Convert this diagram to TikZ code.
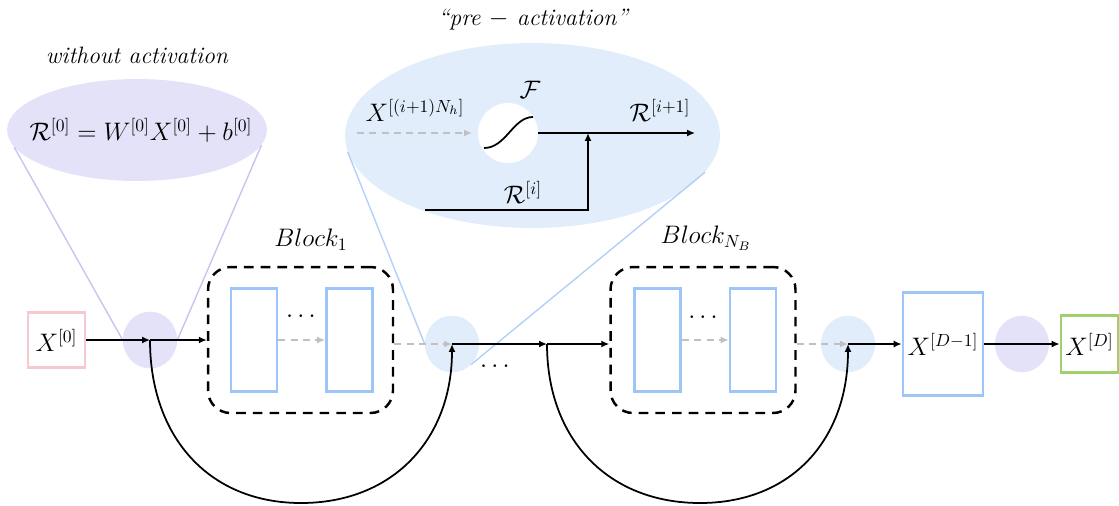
\documentclass[tikz,border=0pt]{standalone}
\usetikzlibrary{arrows.meta,shapes.geometric,calc}
\definecolor{lav}{RGB}{228,226,248}
\definecolor{lbl}{RGB}{226,237,252}
\definecolor{bstroke}{RGB}{158,197,248}
\definecolor{pinks}{RGB}{246,200,208}
\definecolor{greens}{RGB}{160,208,110}
\definecolor{lavline}{RGB}{200,196,240}
\definecolor{blline}{RGB}{178,208,248}
\definecolor{grayd}{RGB}{192,192,192}
\begin{document}
\begin{tikzpicture}[x=0.02cm,y=-0.02cm,
  every node/.style={font=\fontsize{14}{16}\selectfont, inner sep=0pt},
  joinpt/.style={ellipse, minimum width=1.08cm, minimum height=1.13cm, draw=none},
  lavdot/.style={joinpt, fill=lav},
  bludot/.style={joinpt, fill=lbl},
  unitbox/.style={draw=bstroke, line width=1.6pt, minimum width=0.92cm, minimum height=2.06cm},
  blockbox/.style={draw=black, line width=1.4pt, dash pattern=on 5.5pt off 4pt, rounded corners=0.45cm, minimum width=3.7cm, minimum height=2.92cm},
  arr/.style={-{Latex[length=4.5pt,width=4pt]}, line width=1pt, black},
  garr/.style={-{Latex[length=4.5pt,width=4pt]}, line width=1pt, grayd, dash pattern=on 4pt off 3pt},
  lavln/.style={lavline, line width=0.8pt},
  bluln/.style={blline, line width=0.8pt},
  titletext/.style={font=\fontsize{13.5}{16}\selectfont\itshape}
]
\useasboundingbox (0,0) rectangle (1119,505);

% ---- zoom ellipses
\node[ellipse, fill=lav, minimum width=5.2cm, minimum height=2.04cm] (ell0) at (137,130) {};
\node at (141,130) {$\mathcal{R}^{[0]}=W^{[0]}X^{[0]}+b^{[0]}$};
\node[titletext] (t0) at (137,55) {without activation};

\node[ellipse, fill=lbl, minimum width=7.5cm, minimum height=3.7cm] (ell1) at (532.5,135.5) {};
\node[titletext] (t1) at (533,20) {\textquotedblleft pre $-$ activation\textquotedblright};

% ---- main row nodes
\node[draw=pinks, line width=1.6pt, minimum width=1.14cm, minimum height=1.1cm] (x0) at (56.5,340) {$X^{[0]}$};
\node[lavdot] (c1) at (150,340) {};
\node[blockbox] (b1) at (300.5,340) {};
\node[unitbox] (r1) at (254,340) {};
\node[unitbox] (r2) at (349.5,340) {};
\node (d1) at (301,317) {$\cdots$};
\node (lb1) at (311,240) {$Block_1$};

\node[bludot] (c2) at (452,344) {};
\coordinate (j) at (547,344);
\node (dm) at (495,367) {$\cdots$};

\node[blockbox] (b2) at (703,340) {};
\node[unitbox] (r3) at (657.5,340) {};
\node[unitbox] (r4) at (753,340) {};
\node (d2) at (703,318) {$\cdots$};
\node (lb2) at (706,238) {$Block_{N_B}$};

\node[bludot] (c3) at (848,344) {};
\node[draw=bstroke, line width=1.6pt, minimum width=1.6cm, minimum height=2.06cm] (xd1) at (943,344) {$X^{[D-1]}$};
\node[lavdot] (c4) at (1022,344) {};
\node[draw=greens, line width=1.6pt, minimum width=1.14cm, minimum height=1.14cm] (xd) at (1089.5,344) {$X^{[D]}$};

% ---- zoom lines
\draw[lavln] (ell0.188.5) -- (c1.west);
\draw[lavln] (ell0.-7.3) -- (c1.east);
\draw[bluln] (ell1.185.2) -- (c2.west);
\draw[bluln] (ell1.-12.1) -- (c2.-48);
% redraw dots over lines
\node[lavdot] at (c1) {};
\node[bludot] at (c2) {};

% ---- inside the pre-activation ellipse
\node[circle, fill=white, minimum size=1.2cm] (F) at (508,133) {};
\node (Fl) at (530,90) {$\mathcal{F}$};
\draw[line width=1pt] ($(F.center)+(-24,15)$) .. controls +(22,0) and +(-20,0) .. ($(F.center)+(25,-16)$);
\coordinate (xin) at (357,133);
\coordinate (xinend) at (472,133);
\coordinate (rout) at (695,133);
\coordinate (rj) at (588,133);
\coordinate (rin) at (425,210);
\coordinate (rc) at (588,210);
\node (xl) at (415,110) {$X^{[(i+1)N_h]}$};
\node (rl1) at (660,110) {$\mathcal{R}^{[i+1]}$};
\node (rl0) at (523,192) {$\mathcal{R}^{[i]}$};
\draw[garr] (xin) -- (xinend);
\draw[arr] (F.east) -- (rout);
\draw[arr] (rin) -- (rc) -- (rj);

% ---- main row connectors
\draw[arr] (x0.east) -- (c1.center);
\draw[arr] (c1.center) -- (b1.west);
\draw[garr] (r1.east) -- (r2.west);
\draw[garr] (b1.east |- c2.center) -- (c2.center);
\draw[arr] (c2.center) -- (j);
\draw[arr] (j) -- (j -| b2.west);
\draw[garr] (r3.east) -- (r4.west);
\draw[garr] (b2.east |- c3.center) -- (c3.center);
\draw[arr] (c3.center) -- (xd1.west);
\draw[arr] (xd1.east) -- (xd.west);

% ---- skip connections
\coordinate (bot1) at (301,503);
\coordinate (bot2) at (700,503);
\draw[arr] (c1.center) .. controls +(0,97) and +(-92,0) .. (bot1)
  .. controls +(92,0) and +(0,95) .. (c2.center);
\draw[arr] (j) .. controls +(0,95) and +(-92,0) .. (bot2)
  .. controls +(92,0) and +(0,95) .. (c3.center);
\end{tikzpicture}
\end{document}
